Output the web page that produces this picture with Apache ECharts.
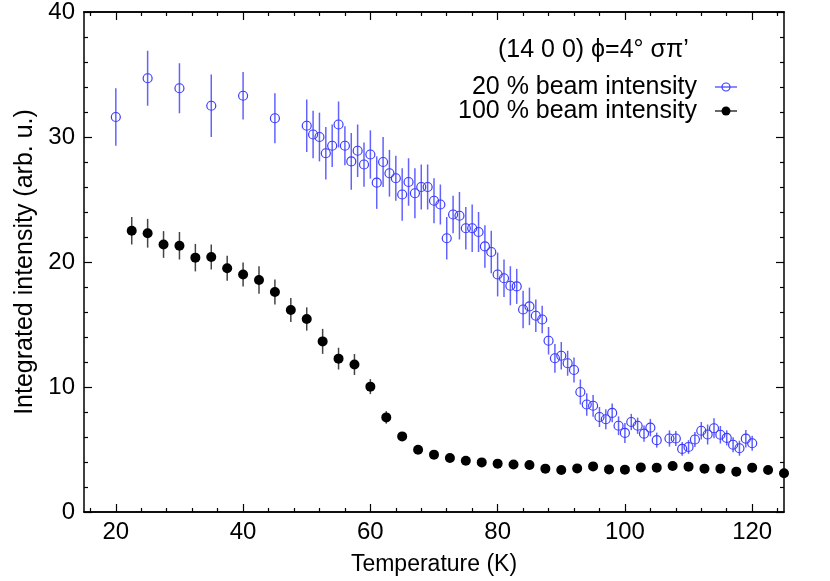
<!DOCTYPE html>
<html>
<head>
<meta charset="utf-8">
<script src="https://cdn.jsdelivr.net/npm/echarts@6/dist/echarts.min.js"></script>
<style>html,body{margin:0;padding:0;background:#fff}#c{width:830px;height:581px}</style>
</head>
<body>
<div id="c"></div>
<script>
// ---- data ----
const blueT = [20,25,30,35,40,45,50,51,52,53,54,55,56,57,58,59,60,61,62,63,64,65,66,67,68,69,70,71,72,73,74,75,76,77,78,79,80,81,82,83,84,85,86,87,88,89,90,91,92,93,94,95,96,97,98,99,100,101,102,103,104,105,107,108,109,110,111,112,113,114,115,116,117,118,119,120];
const blueI = [31.6,34.7,33.9,32.5,33.3,31.5,30.9,30.2,30.0,28.7,29.3,31.0,29.3,28.05,28.9,27.8,28.6,26.35,28.0,27.1,26.7,25.4,26.4,25.5,26.0,26.0,24.9,24.6,21.9,23.8,23.7,22.7,22.7,22.4,21.25,20.8,19.0,18.7,18.1,18.05,16.2,16.45,15.7,15.4,13.7,12.3,12.5,11.9,11.36,9.6,8.6,8.5,7.6,7.42,7.93,6.9,6.33,7.2,6.9,6.27,6.75,5.75,5.88,5.88,5.05,5.2,5.8,6.5,6.2,6.7,6.18,5.93,5.38,5.1,5.87,5.5];
const blueErr = [2.3,2.2,2.0,2.5,1.9,2.0,2.1,1.9,1.95,2.1,1.7,1.84,1.56,2.27,2.1,1.77,1.93,2.1,2.0,1.87,1.8,2.1,1.9,2.0,1.8,1.8,1.8,1.6,1.7,1.5,1.9,1.7,1.9,1.6,1.7,1.7,1.75,1.5,1.56,1.4,1.5,1.5,1.3,1.1,1.1,1.15,1.1,1.0,1.0,1.0,0.9,0.87,0.8,0.8,0.75,0.75,0.8,0.65,0.65,0.65,0.7,0.6,0.65,0.6,0.55,0.55,0.6,0.7,0.8,0.8,0.7,0.6,0.6,0.6,0.7,0.6];

const blackT = [22.5,25,27.5,30,32.5,35,37.5,40,42.5,45,47.5,50,52.5,55,57.5,60,62.5,65,67.5,70,72.5,75,77.5,80,82.5,85,87.5,90,92.5,95,97.5,100,102.5,105,107.5,110,112.5,115,117.5,120,122.5,125];
const blackI = [22.5,22.3,21.4,21.3,20.35,20.4,19.5,19.0,18.56,17.6,16.16,15.44,13.65,12.27,11.8,10.03,7.57,6.05,4.98,4.59,4.32,4.1,3.97,3.87,3.8,3.76,3.47,3.36,3.49,3.65,3.41,3.39,3.57,3.55,3.68,3.63,3.47,3.47,3.23,3.55,3.36,3.1];
const blackErr = [1.1,1.15,1.07,1.1,1.1,1.0,1.0,0.96,1.1,1.0,0.96,0.93,1.0,0.87,0.84,0.6,0.5,0.3,0.2,0.2,0.2,0.2,0.2,0.2,0.2,0.2,0.2,0.2,0.2,0.2,0.2,0.2,0.2,0.2,0.2,0.2,0.2,0.2,0.2,0.2,0.2,0.2];

const xMajorTicks = [20,40,60,80,100,120];
const xMinorTicks = [16,24,28,32,36,44,48,52,56,64,68,72,76,84,88,92,96,104,108,112,116,124];

const titleText = '(14 0 0) \u03D5=4\u00B0 \u03C3\u03C0\u2019';
const legendNames = ['20 % beam intensity', '100 % beam intensity'];
const xName = 'Temperature (K)';
const yName = 'Integrated intensity (arb. u.)';

// ---- chart ----
const FONT = "'Liberation Sans', Arial, Helvetica, sans-serif";
const BLUE = '#3b3bff';
const BLUE_BAR = 'rgba(70,70,255,0.85)';
const BLACK_BAR = '#444';

function errData(T, I, E) { return T.map((t, i) => [t, I[i] - E[i], I[i] + E[i]]); }
function ptData(T, I) { return T.map((t, i) => [t, I[i]]); }
function barRenderer(color) {
  return function (params, api) {
    const p1 = api.coord([api.value(0), api.value(1)]);
    const p2 = api.coord([api.value(0), api.value(2)]);
    return { type: 'line', shape: { x1: p1[0], y1: p1[1], x2: p2[0], y2: p2[1] },
      style: { stroke: color, lineWidth: 1.5 } };
  };
}

const axisLine = { show: true, lineStyle: { color: '#000', width: 1.5 } };
function xAx(pos, ticks, len, withLabel) {
  return {
    type: 'value', position: pos, min: 15, max: 125,
    name: withLabel ? xName : '', nameLocation: 'middle', nameGap: 41,
    nameTextStyle: { fontFamily: FONT, fontSize: 23, color: '#000' },
    axisLine: axisLine,
    axisTick: { show: true, inside: true, length: len, customValues: ticks, lineStyle: { color: '#000', width: 1.2 } },
    axisLabel: { show: withLabel, customValues: ticks, margin: 8, fontFamily: FONT, fontSize: 24, color: '#000' },
    splitLine: { show: false }
  };
}
function yAx(pos, withLabel) {
  return {
    type: 'value', position: pos, min: 0, max: 40, interval: 10,
    name: withLabel ? yName : '', nameLocation: 'middle', nameGap: 44,
    nameTextStyle: { fontFamily: FONT, fontSize: 25, color: '#000' },
    axisLine: axisLine,
    axisTick: { show: true, inside: true, length: 8, lineStyle: { color: '#000', width: 1.2 } },
    minorTick: { show: true, splitNumber: 5, length: 4, lineStyle: { color: '#000', width: 1.2 } },
    axisLabel: { show: withLabel, margin: 9, fontFamily: FONT, fontSize: 24, color: '#000' },
    splitLine: { show: false }, minorSplitLine: { show: false }
  };
}

const chart = echarts.init(document.getElementById('c'), null, { renderer: 'canvas' });
const option = {
  backgroundColor: '#fff',
  animation: false,
  grid: { left: 84, right: 46, top: 12, bottom: 69 },
  xAxis: [
    xAx('bottom', xMajorTicks, 8, true),
    xAx('bottom', xMinorTicks, 4, false),
    xAx('top', xMajorTicks, 8, false),
    xAx('top', xMinorTicks, 4, false)
  ],
  yAxis: [yAx('left', true), yAx('right', false)],
  series: [
    { type: 'custom', xAxisIndex: 0, yAxisIndex: 0, renderItem: barRenderer(BLUE_BAR),
      encode: { x: 0, y: [1, 2] }, data: errData(blueT, blueI, blueErr), clip: false, z: 2 },
    { type: 'scatter', xAxisIndex: 0, yAxisIndex: 0, name: legendNames[0], symbol: 'circle', symbolSize: 9,
      itemStyle: { color: 'rgba(0,0,0,0)', borderColor: BLUE, borderWidth: 1.2, opacity: 1 },
      data: ptData(blueT, blueI), clip: false, z: 3 },
    { type: 'custom', xAxisIndex: 0, yAxisIndex: 0, renderItem: barRenderer(BLACK_BAR),
      encode: { x: 0, y: [1, 2] }, data: errData(blackT, blackI, blackErr), clip: false, z: 4 },
    { type: 'scatter', xAxisIndex: 0, yAxisIndex: 0, name: legendNames[1], symbol: 'circle', symbolSize: 10,
      itemStyle: { color: '#000', opacity: 1 }, data: ptData(blackT, blackI), clip: false, z: 5 }
  ],
  graphic: [
    { type: 'text', left: 590 - 92, top: 38, style: { text: titleText, font: '25px ' + FONT, fill: '#000' } },
    { type: 'text', style: { x: 697, y: 87, text: legendNames[0], font: '25px ' + FONT, fill: '#000', align: 'right', verticalAlign: 'middle' } },
    { type: 'text', style: { x: 697, y: 111, text: legendNames[1], font: '25px ' + FONT, fill: '#000', align: 'right', verticalAlign: 'middle' } },
    { type: 'line', shape: { x1: 715, y1: 87, x2: 737, y2: 87 }, style: { stroke: BLUE, lineWidth: 1.2 } },
    { type: 'circle', shape: { cx: 726, cy: 87, r: 4 }, style: { stroke: BLUE, fill: 'none', lineWidth: 1.2 } },
    { type: 'line', shape: { x1: 715, y1: 111, x2: 737, y2: 111 }, style: { stroke: '#000', lineWidth: 1.2 } },
    { type: 'circle', shape: { cx: 726, cy: 111, r: 4.5 }, style: { fill: '#000' } }
  ]
};
chart.setOption(option);
</script>
</body>
</html>
